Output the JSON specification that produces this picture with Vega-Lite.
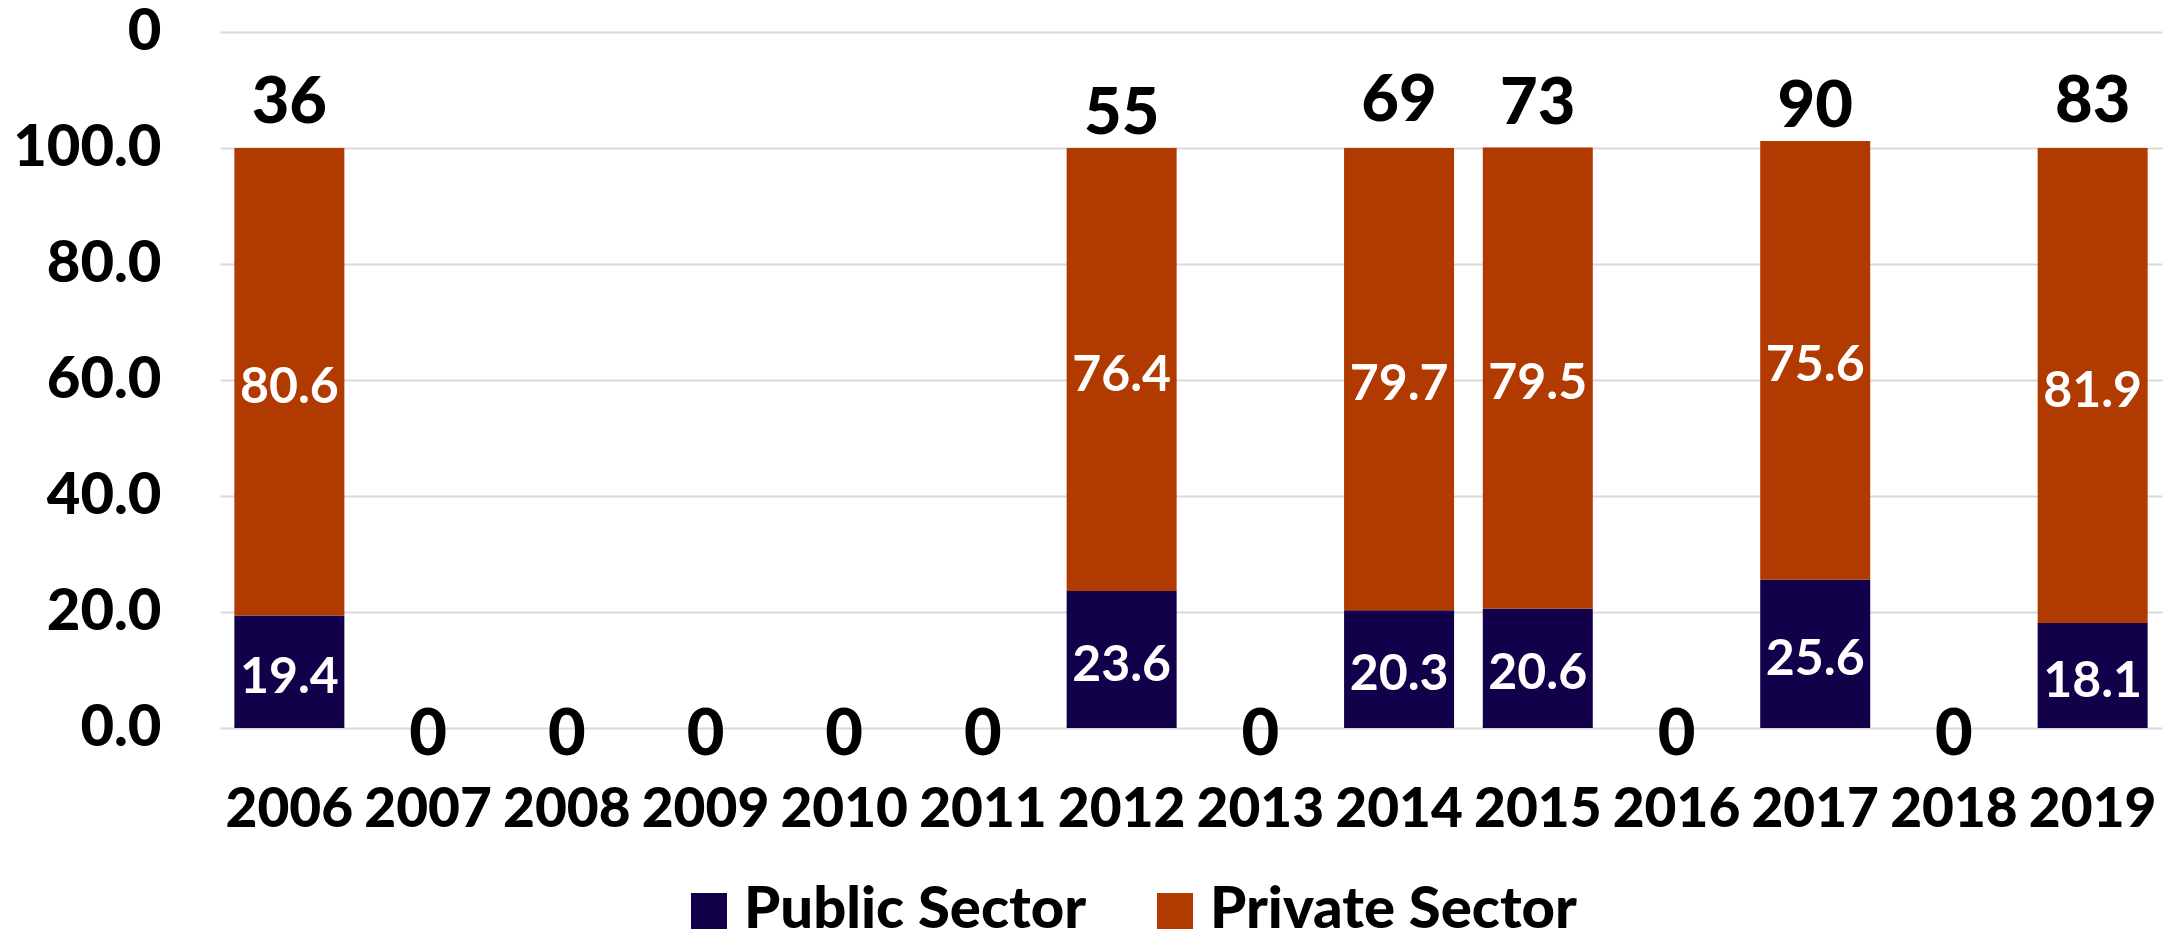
{
"$schema":"https://vega.github.io/schema/vega-lite/v6.json",
"width":1942,"height":696,
"autosize":"none",
"padding":{"left":220,"top":32,"right":7,"bottom":205},
"background":"white",
"config":{"view":{"stroke":null},"font":"Lato"},
"datasets":{
"shares":[
{"year":"2006","sector":"Public Sector","share":19.4},{"year":"2006","sector":"Private Sector","share":80.6},
{"year":"2012","sector":"Public Sector","share":23.6},{"year":"2012","sector":"Private Sector","share":76.4},
{"year":"2014","sector":"Public Sector","share":20.3},{"year":"2014","sector":"Private Sector","share":79.7},
{"year":"2015","sector":"Public Sector","share":20.6},{"year":"2015","sector":"Private Sector","share":79.5},
{"year":"2017","sector":"Public Sector","share":25.6},{"year":"2017","sector":"Private Sector","share":75.6},
{"year":"2019","sector":"Public Sector","share":18.1},{"year":"2019","sector":"Private Sector","share":81.9}
],
"counts":[
{"year":"2006","count":36,"level":108.9},{"year":"2007","count":0,"level":0},{"year":"2008","count":0,"level":0},
{"year":"2009","count":0,"level":0},{"year":"2010","count":0,"level":0},{"year":"2011","count":0,"level":0},
{"year":"2012","count":55,"level":107.1},{"year":"2013","count":0,"level":0},{"year":"2014","count":69,"level":109.3},
{"year":"2015","count":73,"level":108.8},{"year":"2016","count":0,"level":0},{"year":"2017","count":90,"level":108.3},
{"year":"2018","count":0,"level":0},{"year":"2019","count":83,"level":109.1}
]},
"encoding":{
"x":{"field":"year","type":"nominal","sort":null,
"scale":{"domain":["2006","2007","2008","2009","2010","2011","2012","2013","2014","2015","2016","2017","2018","2019"],"paddingInner":0.207,"paddingOuter":0.1035},
"axis":{"title":null,"labelAngle":0,"domain":false,"ticks":false,"grid":false,"labelFont":"Lato","labelFontWeight":900,"labelFontSize":55,"labelColor":"#000000","labelPadding":55,"labelBaseline":"top","labelOverlap":false}}
},
"layer":[
{"data":{"name":"shares"},
"mark":{"type":"bar"},
"encoding":{
"y":{"field":"share","type":"quantitative","stack":"zero",
"scale":{"domain":[0,120],"nice":false},
"axis":{"title":null,"values":[0,20,40,60,80,100,120],"domain":false,"ticks":false,"grid":true,"gridColor":"#d9d9d9","gridWidth":2,"labelFont":"Lato","labelFontWeight":900,"labelFontSize":58,"labelColor":"#000000","labelPadding":59,"labelExpr":"datum.value==120?'0':format(datum.value,'.1f')"}},
"color":{"field":"sector","type":"nominal",
"scale":{"domain":["Public Sector","Private Sector"],"range":["#12004a","#b03a00"]},
"legend":{"title":null,"orient":"none","legendX":460,"legendY":850,"direction":"horizontal","symbolType":"square","symbolSize":1296,"symbolStrokeWidth":0,"symbolOpacity":1,"labelFont":"Lato","labelFontWeight":900,"labelFontSize":58,"labelColor":"#000000","labelLimit":500,"columnPadding":60,"labelOffset":6}}
}},
{"data":{"name":"shares"},
"transform":[
{"stack":"share","groupby":["year"],"sort":[{"field":"sector","order":"descending"}],"as":["y0","y1"]},
{"fold":["y0","y1"],"as":["edge","edgeValue"]},
{"aggregate":[{"op":"mean","field":"edgeValue","as":"mid"}],"groupby":["year","sector","share"]}
],
"mark":{"type":"text","font":"Lato","fontWeight":"bold","fontSize":50,"color":"white","baseline":"middle","align":"center","dy":6},
"encoding":{
"y":{"field":"mid","type":"quantitative"},
"text":{"field":"share","type":"quantitative","format":".1f"}
}},
{"data":{"name":"counts"},
"mark":{"type":"text","font":"Lato","fontWeight":900,"fontSize":65,"color":"#000000","baseline":"middle","align":"center","dy":7},
"encoding":{
"y":{"field":"level","type":"quantitative"},
"text":{"field":"count","type":"quantitative"}
}}
]
}
